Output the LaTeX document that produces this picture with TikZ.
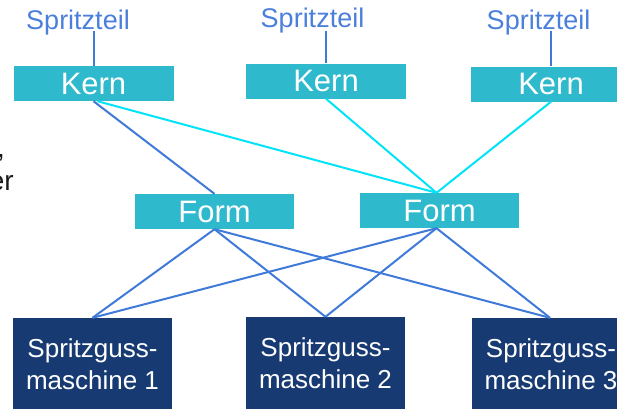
\documentclass[tikz,border=0pt]{standalone}
\usepackage{fontspec}
\setmainfont{Liberation Sans}
\definecolor{tealbox}{HTML}{2FB9CC}
\definecolor{navybox}{HTML}{183A72}
\definecolor{blueln}{HTML}{3F7AD9}
\definecolor{cyanln}{HTML}{00E3F8}
\definecolor{parttext}{HTML}{4A7FDB}
\definecolor{fragtext}{HTML}{1A1A1A}
\begin{document}
\begin{tikzpicture}[x=1pt,y=-1pt,
  kernbox/.style={rectangle, fill=tealbox, minimum width=160pt, minimum height=35pt, inner sep=0pt, text=white, font=\fontsize{31}{31}\selectfont},
  formbox/.style={rectangle, fill=tealbox, minimum width=159pt, minimum height=35pt, inner sep=0pt, text=white, font=\fontsize{31}{31}\selectfont},
  machbox/.style={rectangle, fill=navybox, minimum width=159pt, minimum height=93pt, inner sep=0pt, text=white, align=center, font=\fontsize{26}{32}\selectfont},
  parttxt/.style={inner sep=0pt, anchor=base, text=parttext, font=\fontsize{27}{27}\selectfont},
  fragtxt/.style={inner sep=0pt, anchor=base east, text=fragtext, font=\fontsize{28}{28}\selectfont},
  blueline/.style={draw=blueln, line width=2pt},
  cyanline/.style={draw=cyanln, line width=2pt}]
\useasboundingbox (0,0) rectangle (617,408);
\clip (0,0) rectangle (617,408);

% fragments of cut-off text at the left edge
\node[fragtxt] (fr1) at (5,157) {,};
\node[fragtxt] (fr2) at (14,190) {er};

% parts
\node[parttxt] (s1) at (78,29) {Spritzteil};
\node[parttxt] (s2) at (312.5,27) {Spritzteil};
\node[parttxt] (s3) at (538.5,29) {Spritzteil};

% cores
\node[kernbox] (k1) at (93.5,83.5) {Kern};
\node[kernbox] (k2) at (326,81) {Kern};
\node[kernbox] (k3) at (551,84) {Kern};

% moulds
\node[formbox] (f1) at (214.5,211.5) {Form};
\node[formbox] (f2) at (439.5,210.5) {Form};

% machines
\node[machbox] (m1) at (92.5,364.5) {Spritzguss-\\maschine 1};
\node[machbox] (m2) at (325.5,363.5) {Spritzguss-\\maschine 2};
\node[machbox] (m3) at (551,364.5) {Spritzguss-\\maschine 3};

% part -> core
\draw[blueline] ([yshift=-2pt]s1.base -| k1.north) -- (k1.north);
\draw[blueline] ([yshift=-4pt]s2.base -| k2.north) -- (k2.north);
\draw[blueline] ([yshift=-2pt]s3.base -| k3.north) -- (k3.north);

% core -> mould
\draw[blueline] (k1.south) -- (f1.north);
\draw[cyanline] ([xshift=4pt]k1.south) -- ([xshift=-3pt]f2.north);
\draw[cyanline] (k2.south) -- ([xshift=-3pt]f2.north);
\draw[cyanline] (k3.south) -- ([xshift=-3pt]f2.north);

% mould -> machine
\draw[blueline] (f1.south) -- (m1.north);
\draw[blueline] (f1.south) -- (m2.north);
\draw[blueline] (f1.south) -- ([xshift=-1pt]m3.north);
\draw[blueline] ([xshift=-3pt]f2.south) -- (m1.north);
\draw[blueline] ([xshift=-3pt]f2.south) -- (m2.north);
\draw[blueline] ([xshift=-3pt]f2.south) -- ([xshift=-1pt]m3.north);
\end{tikzpicture}
\end{document}
